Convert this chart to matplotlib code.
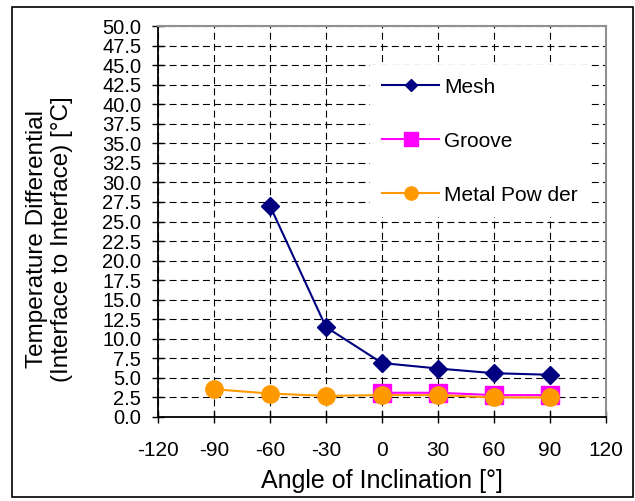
import matplotlib
matplotlib.use("Agg")
import matplotlib.pyplot as plt
from matplotlib.patches import Rectangle

plt.rcParams.update({"font.family": "Liberation Sans", "font.size": 15,
                     "lines.scale_dashes": False,
                     "axes.unicode_minus": False})

# ── Data ──────────────────────────────────────────────────────────────────────
mesh_x = [-60, -30, 0, 30, 60, 90]
mesh_y = [27.0, 11.5, 6.9, 6.2, 5.6, 5.4]

groove_x = [0, 30, 60, 90]
groove_y = [3.1, 3.1, 2.8, 2.8]

powder_x = [-90, -60, -30, 0, 30, 60, 90]
powder_y = [3.55, 3.0, 2.7, 2.8, 2.8, 2.5, 2.5]

x_ticks = list(range(-120, 121, 30))
y_ticks = [i * 2.5 for i in range(21)]

# ── Figure ────────────────────────────────────────────────────────────────────
W, H = 635, 501
fig = plt.figure(figsize=(W / 100, H / 100), dpi=100)
fig.patch.set_facecolor("white")

# outer frame
fig.patches.append(Rectangle((12 / W, 4 / H), (633 - 12) / W, (494 - 4) / H,
                             transform=fig.transFigure, fill=False,
                             edgecolor="black", linewidth=1.2))

ax = fig.add_axes([158 / W, (H - 417) / H, (606 - 158) / W, (417 - 26) / H])

ax.plot(mesh_x, mesh_y, color="#000080", lw=1.5, marker="D", ms=9,
        label="Mesh", zorder=4)
ax.plot(groove_x, groove_y, color="#FF00FF", lw=1.5, marker="s", ms=12.5,
        label="Groove", zorder=3)
ax.plot(powder_x, powder_y, color="#FF9900", lw=1.5, marker="o", ms=12.5,
        label="Metal Pow der", zorder=5)

ax.set_xlim(-120, 120)
ax.set_ylim(0, 50)
ax.set_xticks(x_ticks)
ax.set_yticks(y_ticks)
ax.set_yticklabels([f"{v:.1f}" for v in y_ticks])
ax.tick_params(direction="inout", length=8, width=1)
ax.tick_params(axis="y", labelsize=14.5, pad=8)
ax.tick_params(axis="x", labelsize=15, pad=13)

ax.grid(True, color="black", lw=0.8, linestyle=(0, (5, 3)))
ax.set_axisbelow(True)

for s in ["left", "bottom"]:
    ax.spines[s].set_color("black")
    ax.spines[s].set_linewidth(1.3)
for s in ["top", "right"]:
    ax.spines[s].set_color("#909090")
    ax.spines[s].set_linewidth(1.5)

ax.set_xlabel("Angle of Inclination [°]", fontsize=18, labelpad=7)
ax.set_ylabel("Temperature Differential\n(Interface to Interface) [°C]",
              fontsize=17.5, linespacing=1.15)
ax.yaxis.set_label_coords(-0.19, 0.455)

# legend sits on a white box that hides the grid behind it
leg = ax.legend(loc="upper left", bbox_to_anchor=(0.473, 0.900),
                frameon=True, facecolor="white", edgecolor="none",
                framealpha=1, fancybox=False, fontsize=15,
                labelspacing=1.68, handlelength=2.7, handletextpad=0.25,
                borderpad=0.6, borderaxespad=0)
for h, ms in zip(leg.legend_handles, [6.5, 9.5, 9.5]):
    h.set_markersize(ms)

fig.savefig("out.png", dpi=100, facecolor="white")
